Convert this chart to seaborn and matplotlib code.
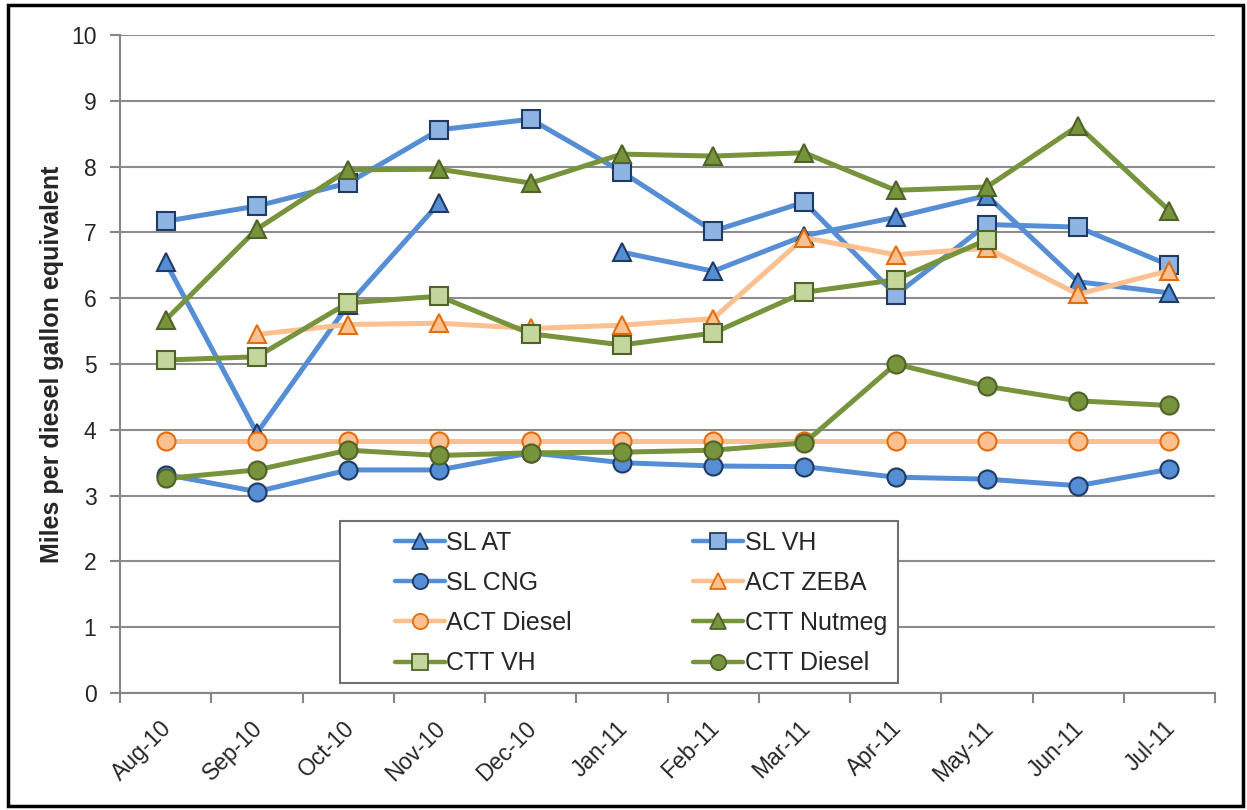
import numpy as np
import pandas as pd
import matplotlib
matplotlib.use("Agg")
import matplotlib.pyplot as plt
import seaborn as sns
from matplotlib import font_manager
from matplotlib.lines import Line2D
from matplotlib.patches import Rectangle
from matplotlib.transforms import ScaledTranslation

months = ["Aug-10", "Sep-10", "Oct-10", "Nov-10", "Dec-10", "Jan-11",
          "Feb-11", "Mar-11", "Apr-11", "May-11", "Jun-11", "Jul-11"]

sl_at = [6.55, 3.95, 5.9, 7.45, np.nan, 6.70, 6.41, 6.95, 7.23, 7.56, 6.25, 6.08]
sl_vh = [7.17, 7.40, 7.75, 8.56, 8.72, 7.92, 7.02, 7.46, 6.05, 7.12, 7.08, 6.50]
sl_cng = [3.32, 3.06, 3.39, 3.39, 3.65, 3.50, 3.45, 3.44, 3.28, 3.25, 3.15, 3.40]
act_zeba = [np.nan, 5.45, 5.60, 5.62, 5.54, 5.59, 5.69, 6.92, 6.66, 6.76, 6.06, 6.42]
act_diesel = [3.83] * 12
ctt_nutmeg = [5.67, 7.05, 7.95, 7.96, 7.75, 8.19, 8.16, 8.21, 7.64, 7.69, 8.62, 7.33]
ctt_vh = [5.06, 5.11, 5.93, 6.03, 5.46, 5.29, 5.47, 6.09, 6.28, 6.89, np.nan, np.nan]
ctt_diesel = [3.26, 3.39, 3.69, 3.61, 3.65, 3.66, 3.69, 3.80, 5.00, 4.66, 4.44, 4.37]

# name, values, line colour, marker, marker face, marker edge
series = [
    ("SL AT", sl_at, "#558ED5", "^", "#558ED5", "#1F3B63"),
    ("SL VH", sl_vh, "#558ED5", "s", "#8EB4E3", "#1F3B63"),
    ("SL CNG", sl_cng, "#558ED5", "o", "#558ED5", "#1F3B63"),
    ("ACT ZEBA", act_zeba, "#FAC090", "^", "#FAC090", "#E46C0A"),
    ("ACT Diesel", act_diesel, "#FAC090", "o", "#FAC090", "#E46C0A"),
    ("CTT Nutmeg", ctt_nutmeg, "#77933C", "^", "#77933C", "#4F6228"),
    ("CTT VH", ctt_vh, "#77933C", "s", "#C3D69B", "#4F6228"),
    ("CTT Diesel", ctt_diesel, "#77933C", "o", "#77933C", "#4F6228"),
]

sns.set_style("white")
plt.rcParams["font.family"] = ["Liberation Sans", "DejaVu Sans"]

fig = plt.figure(figsize=(12.47, 8.10), dpi=100)
ax = fig.add_axes([120 / 1247, 1 - 693 / 810, 1095 / 1247, 658 / 810])

handles = {}
for name, vals, lc, mk, mf, me in series:
    df = pd.DataFrame({"x": np.arange(len(months)), "y": vals})
    # split into runs so missing months leave a gap
    df["seg"] = df["y"].isna().cumsum()
    df = df.dropna()
    sns.lineplot(data=df, x="x", y="y", units="seg", estimator=None, ax=ax,
                 color=lc, linewidth=3.6, marker=mk, markersize=13,
                 markerfacecolor=mf, markeredgecolor=me, markeredgewidth=1.5,
                 legend=False)
    handles[name] = Line2D([], [], color=lc, linewidth=3.2, marker=mk,
                           markersize=11, markerfacecolor=mf,
                           markeredgecolor=me, markeredgewidth=1.3)

ax.set_xlim(-0.5, len(months) - 0.5)
ax.set_ylim(0, 10)
ax.set_yticks(range(0, 11))
ax.set_xticks(np.arange(len(months)))
ax.set_xticklabels(months, rotation=45, ha="right", rotation_mode="anchor",
                   fontsize=16.5)
ax.tick_params(axis="x", length=0, pad=17)
shift = ScaledTranslation(-4 / 72, 0, fig.dpi_scale_trans)
for lbl in ax.get_xticklabels():
    lbl.set_transform(lbl.get_transform() + shift)
ax.set_xticks(np.arange(-0.5, len(months)), minor=True)
ax.tick_params(axis="x", which="minor", length=7, width=1.5, color="#868686",
               direction="out", bottom=True)
ax.tick_params(axis="y", labelsize=16.5, length=7, width=1.5, color="#868686",
               direction="out", left=True, pad=10)
ax.grid(axis="y", color="#8C8C8C", linewidth=1.5)
ax.set_axisbelow(True)
for s in ["top", "right"]:
    ax.spines[s].set_visible(False)
for s in ["left", "bottom"]:
    ax.spines[s].set_color("#868686")
    ax.spines[s].set_linewidth(1.5)

names = {f.name for f in font_manager.fontManager.ttflist}
if "Liberation Sans Narrow" in names:
    ylab_font, ylab_size = "Liberation Sans Narrow", 21
else:
    ylab_font, ylab_size = "Liberation Sans", 18
ax.set_xlabel("")
ax.set_ylabel("Miles per diesel gallon equivalent", fontsize=ylab_size,
              fontweight="bold", family=[ylab_font, "DejaVu Sans"], labelpad=5)

# legend box drawn separately: the entries sit off-centre inside it
ax.add_patch(Rectangle((0.201, 0.0152), 0.5095, 0.2462, transform=ax.transAxes,
                       facecolor="white", edgecolor="#707070", linewidth=1.5,
                       zorder=4.9, clip_on=False))
order = ["SL AT", "SL CNG", "ACT Diesel", "CTT VH",
         "SL VH", "ACT ZEBA", "CTT Nutmeg", "CTT Diesel"]
leg = ax.legend([handles[n] for n in order], order, ncol=2,
                loc="center", bbox_to_anchor=(0.2511, 0.0138, 0.4494, 0.246),
                mode="expand", fontsize=18, frameon=False,
                handlelength=2.0, handletextpad=0.06, borderpad=0,
                labelspacing=0.65, borderaxespad=0)
leg.set_zorder(5)

fig.patches.append(Rectangle((8 / 1247, 4 / 810), 1235 / 1247, 801 / 810,
                             transform=fig.transFigure, fill=False,
                             edgecolor="black", linewidth=2.5))

fig.savefig("out.png", dpi=100)
